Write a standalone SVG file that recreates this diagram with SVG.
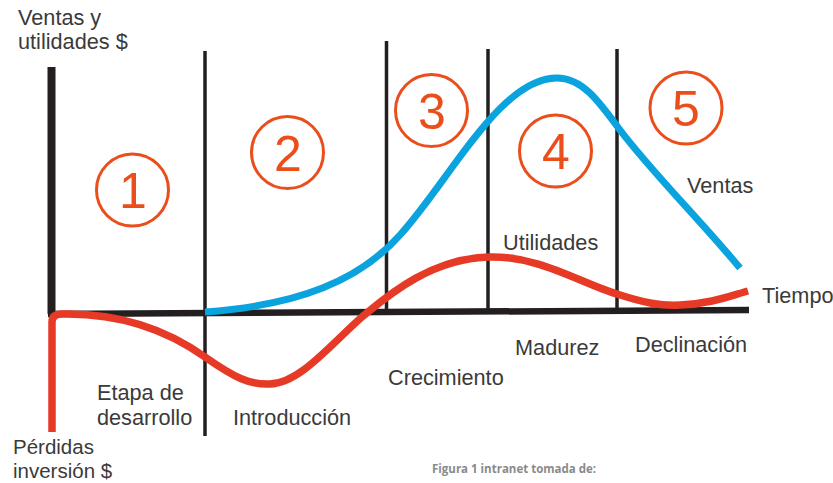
<svg xmlns="http://www.w3.org/2000/svg" width="833" height="483" viewBox="0 0 833 483">
<style>
.lbl{font-family:"Liberation Sans",Arial,sans-serif;font-size:21.7px;fill:#3a3a3a}
.sm{font-size:20.5px}
.num{font-family:"Liberation Sans",Arial,sans-serif;font-size:50px;fill:#ea4e1b;text-anchor:middle}
.ring{fill:none;stroke:#ea4e1b;stroke-width:3}
.div{stroke:#231f20;stroke-width:3.5;fill:none}
.cap{font-family:"Open Sans","Liberation Sans",sans-serif;font-size:11.5px;font-weight:bold;fill:#8a8a8a}
</style>
<rect width="833" height="483" fill="#fff"/>
<g id="axes">
<line x1="51.5" y1="67" x2="51.5" y2="314" stroke="#231f20" stroke-width="8"/>
<line x1="48" y1="314" x2="749" y2="310" stroke="#231f20" stroke-width="6.5"/>
</g>
<g id="dividers">
<line class="div" x1="205" y1="51" x2="205" y2="436"/>
<line class="div" x1="386.5" y1="41" x2="386.5" y2="312"/>
<line class="div" x1="488" y1="49" x2="488" y2="312"/>
<line class="div" x1="617" y1="49" x2="617" y2="311"/>
</g>
<g id="connectors">
<path id="ventas-curve" d="M205,312 C300,305 360,280 400,235 C450,180 500,78 557,78 C582,78 598,100 620,130 C650,170 700,220 740,268" fill="none" stroke="#0aa3de" stroke-width="7"/>
<path id="utilidades-curve" d="M52,432 L52,322 Q52,314 62,314 C110,313 160,325 205,357 C235,378 250,385 270,384 C300,383 330,345 363,316 C385,298 430,258 490,257 C540,256 580,283 617,294 C645,303 660,306 680,305 C710,304 730,296 748,291" fill="none" stroke="#e63a26" stroke-width="7.5"/>
</g>
<g id="stage1"><circle class="ring" cx="132.5" cy="190" r="36"/><text class="num" x="133" y="208">1</text></g>
<g id="stage2"><circle class="ring" cx="287.5" cy="152.5" r="36"/><text class="num" x="288" y="171">2</text></g>
<g id="stage3"><circle class="ring" cx="431.5" cy="110.5" r="36"/><text class="num" x="432" y="129">3</text></g>
<g id="stage4"><circle class="ring" cx="555.5" cy="151" r="36"/><text class="num" x="556" y="169">4</text></g>
<g id="stage5"><circle class="ring" cx="686" cy="108" r="36"/><text class="num" x="686" y="126">5</text></g>
<g id="labels">
<text class="lbl" x="18" y="25">Ventas y</text>
<text class="lbl" x="18" y="49">utilidades $</text>
<text class="lbl" x="97" y="400">Etapa de</text>
<text class="lbl" x="97" y="425">desarrollo</text>
<text class="lbl sm" x="13" y="454">Pérdidas</text>
<text class="lbl sm" x="13" y="478">inversión $</text>
<text class="lbl" x="233" y="425">Introducción</text>
<text class="lbl" x="388" y="385">Crecimiento</text>
<text class="lbl" x="515" y="355">Madurez</text>
<text class="lbl" x="503" y="250">Utilidades</text>
<text class="lbl" x="635" y="352">Declinación</text>
<text class="lbl" x="762" y="303">Tiempo</text>
<text class="lbl" x="687" y="193">Ventas</text>
<text class="cap" x="432" y="473">Figura 1 intranet tomada de:</text>
</g>
</svg>
